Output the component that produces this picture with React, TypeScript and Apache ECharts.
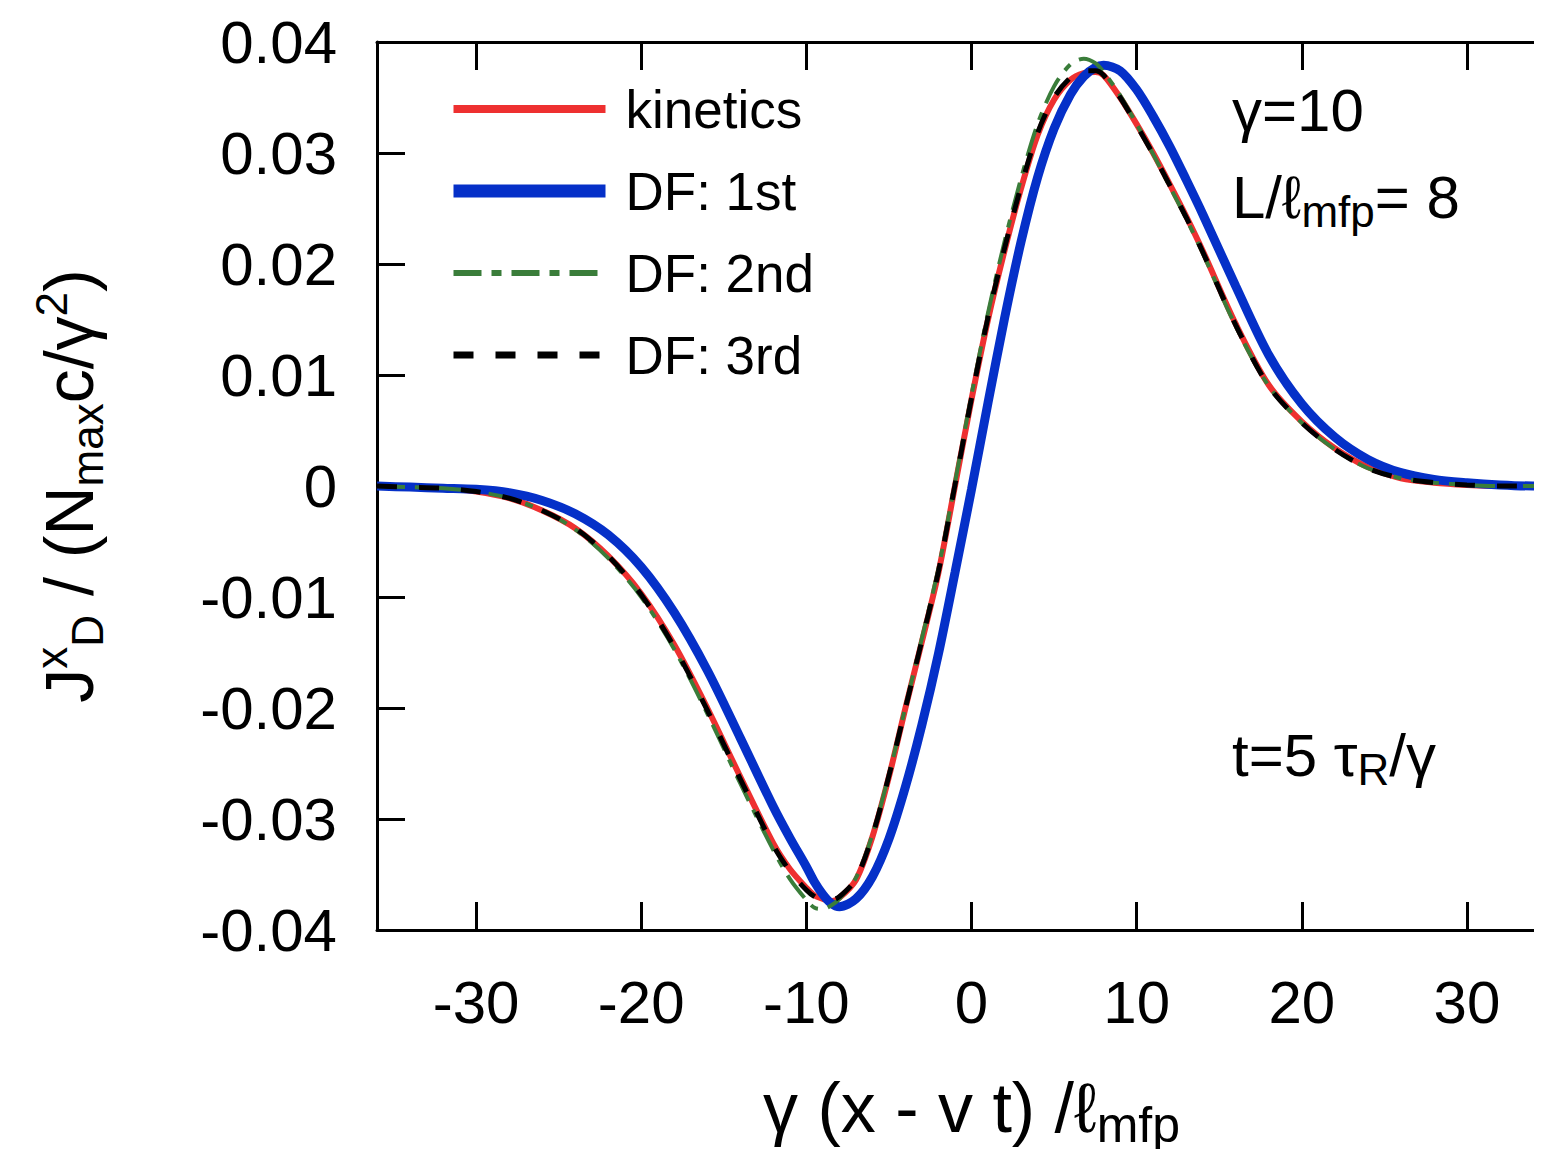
import React, { useEffect, useRef } from "react";
import * as echarts from "echarts";

const xs = [
  -36, -34, -32, -30, -28, -26, -24, -22, -20, -18, -16, -14, -12, -11, -10, -9.5, -9, -8.5, -8, -7, -6, -5, -4,
  -3, -2, -1, 0, 1, 2, 3, 4, 5, 6, 6.8, 7.5, 8, 9, 10, 11, 12, 13, 14, 16, 18, 20, 22, 24, 26, 28, 30, 32, 34, 36,
];

const kinetics = [
  0, -0.0001, -0.0002, -0.0005, -0.0011, -0.0022, -0.0038, -0.0063, -0.0097, -0.0143, -0.02, -0.0262, -0.0322,
  -0.0345, -0.0362, -0.0369, -0.0372, -0.0374, -0.0371, -0.0355, -0.0316, -0.0262, -0.02, -0.014, -0.0078, 0,
  0.0078, 0.015, 0.0212, 0.0268, 0.0316, 0.0348, 0.0366, 0.0372, 0.0373, 0.037, 0.035, 0.0326, 0.03, 0.0272,
  0.0243, 0.0212, 0.0146, 0.0091, 0.0058, 0.0034, 0.0017, 0.0007, 0.0003, 0.0001, 0, 0, 0,
];

const df1st = [
  0, -0.0001, -0.0002, -0.0003, -0.0006, -0.0013, -0.0025, -0.0044, -0.0073, -0.0114, -0.0166, -0.0227, -0.0289,
  -0.0317, -0.0343, -0.0357, -0.0368, -0.0376, -0.0379, -0.0372, -0.0352, -0.0318, -0.0271, -0.0215, -0.0151,
  -0.0078, -0.0003, 0.0075, 0.0151, 0.022, 0.0278, 0.0322, 0.0353, 0.0369, 0.0377, 0.0379, 0.0374, 0.0357,
  0.0333, 0.0306, 0.0276, 0.0245, 0.018, 0.0118, 0.0074, 0.0044, 0.0024, 0.0012, 0.0006, 0.0003, 0.0001, 0, 0,
];

const df2nd = [
  0, -0.0001, -0.0002, -0.0005, -0.0011, -0.0022, -0.0039, -0.0065, -0.01, -0.0147, -0.0205, -0.0268, -0.0328,
  -0.0354, -0.0373, -0.038, -0.0381, -0.0378, -0.0372, -0.0353, -0.0314, -0.026, -0.0199, -0.0137, -0.0074,
  0.0003, 0.0082, 0.0156, 0.022, 0.0277, 0.0326, 0.036, 0.038, 0.0385, 0.0381, 0.0373, 0.0352, 0.0326, 0.0299,
  0.027, 0.0241, 0.021, 0.0144, 0.009, 0.0057, 0.0033, 0.0016, 0.0007, 0.0003, 0.0001, 0, 0, 0,
];

const df3rd = [
  0, -0.0001, -0.0002, -0.0005, -0.0011, -0.0022, -0.0038, -0.0063, -0.0098, -0.0145, -0.0202, -0.0264, -0.0324,
  -0.0347, -0.0364, -0.037, -0.0373, -0.0373, -0.037, -0.0354, -0.0315, -0.0261, -0.02, -0.0139, -0.0077, 0.0001,
  0.0079, 0.0152, 0.0214, 0.027, 0.0318, 0.035, 0.0368, 0.0374, 0.0374, 0.037, 0.035, 0.0325, 0.0299, 0.0271,
  0.0242, 0.0211, 0.0145, 0.009, 0.0057, 0.0033, 0.0016, 0.0007, 0.0003, 0.0001, 0, 0, 0,
];

const xTicks = [-30, -20, -10, 0, 10, 20, 30];
const seriesNames = ["kinetics", "DF: 1st", "DF: 2nd", "DF: 3rd"];

const FONT = '"Liberation Sans", Arial, Helvetica, sans-serif';

const RED = "#ee3030";
const BLUE = "#0530c8";
const GREEN = "#3a7d3a";
const BLACK = "#000000";

export default function App() {
  const ref = useRef<HTMLDivElement>(null);

  useEffect(() => {
    if (!ref.current) return;
    const chart = echarts.init(ref.current, null, { renderer: "svg" });
    const pairs = (ys: number[]) => xs.map((x, i) => [x, ys[i]]);
    const axisLineStyle = { color: "#000", width: 3 };
    const tickStyle = { color: "#000", width: 3 };

    const richAnno = {
      n: { fontSize: 60, lineHeight: 72, fontFamily: FONT, color: "#000" },
      s: { fontSize: 44, lineHeight: 39, verticalAlign: "bottom", fontFamily: FONT, color: "#000" },
    };

    const lineSeries = (name: string, ys: number[], color: string, width: number, type: any, z: number) => ({
      name,
      type: "line",
      data: pairs(ys),
      symbol: "none",
      smooth: 0.3,
      lineStyle: { color, width, type },
      itemStyle: { color },
      z,
    });

    chart.setOption({
      animation: false,
      backgroundColor: "#fff",
      textStyle: { fontFamily: FONT, color: "#000" },
      grid: {
        left: 377,
        width: 1189,
        top: 42,
        bottom: 227,
        containLabel: false,
        outerBoundsMode: "none",
      },
      legend: {
        orient: "vertical",
        left: 442,
        top: 74,
        itemWidth: 152,
        itemHeight: 20,
        itemGap: 22,
        itemStyle: { opacity: 0 },
        data: [
          { name: seriesNames[0], lineStyle: { color: RED, width: 8, type: "solid" } },
          { name: seriesNames[1], lineStyle: { color: BLUE, width: 13, type: "solid" } },
          { name: seriesNames[2], lineStyle: { color: GREEN, width: 6, type: [28, 10, 10, 10] } },
          { name: seriesNames[3], lineStyle: { color: BLACK, width: 7, type: [20, 22] } },
        ],
        textStyle: { fontSize: 53, color: "#000", fontFamily: FONT, lineHeight: 60, padding: [0, 0, 0, 15] },
      },
      xAxis: [
        {
          type: "value",
          position: "bottom",
          min: -36,
          max: 36,
          axisLine: { show: true, onZero: false, lineStyle: axisLineStyle },
          axisTick: { show: true, inside: true, length: 28, customValues: xTicks, lineStyle: tickStyle },
          axisLabel: { customValues: xTicks, fontSize: 60, color: "#000", margin: 42, fontFamily: FONT },
          splitLine: { show: false },
          name: "{n|γ (x - v t) /ℓ}{s|mfp}",
          nameLocation: "middle",
          nameGap: 136,
          nameTextStyle: {
            rich: {
              n: { fontSize: 70, lineHeight: 84, fontFamily: FONT, color: "#000" },
              s: { fontSize: 50, lineHeight: 44, verticalAlign: "bottom", fontFamily: FONT, color: "#000" },
            },
          },
        },
        {
          type: "value",
          position: "top",
          min: -36,
          max: 36,
          axisLine: { show: true, onZero: false, lineStyle: axisLineStyle },
          axisTick: { show: true, inside: true, length: 28, customValues: xTicks, lineStyle: tickStyle },
          axisLabel: { show: false },
          splitLine: { show: false },
        },
      ],
      yAxis: [
        {
          type: "value",
          position: "left",
          min: -0.04,
          max: 0.04,
          interval: 0.01,
          axisLine: { show: true, onZero: false, lineStyle: axisLineStyle },
          axisTick: { show: true, inside: true, length: 28, lineStyle: tickStyle },
          axisLabel: {
            fontSize: 60,
            color: "#000",
            margin: 40,
            fontFamily: FONT,
            formatter: (v: number) => (Math.abs(v) < 1e-9 ? "0" : v.toFixed(2)),
          },
          splitLine: { show: false },
          name: "{n|J}{sup|x}{sub|D}{n| / (N}{sub|max}{n|c/γ}{sup|2}{n|)}",
          nameLocation: "middle",
          nameRotate: 90,
          nameGap: 268,
          nameTextStyle: {
            rich: {
              n: { fontSize: 68, lineHeight: 80, fontFamily: FONT, color: "#000" },
              sub: { fontSize: 44, lineHeight: 38, verticalAlign: "bottom", fontFamily: FONT, color: "#000" },
              sup: { fontSize: 44, lineHeight: 38, verticalAlign: "top", fontFamily: FONT, color: "#000" },
            },
          },
        },
        {
          type: "value",
          position: "right",
          min: -0.04,
          max: 0.04,
          interval: 0.01,
          axisLine: { show: true, onZero: false, lineStyle: axisLineStyle },
          axisTick: { show: true, inside: true, length: 28, lineStyle: tickStyle },
          axisLabel: { show: false },
          splitLine: { show: false },
        },
      ],
      series: [
        lineSeries(seriesNames[0], kinetics, RED, 6, "solid", 2),
        lineSeries(seriesNames[1], df1st, BLUE, 9, "solid", 3),
        lineSeries(seriesNames[2], df2nd, GREEN, 4, [28, 10, 8, 10], 4),
        lineSeries(seriesNames[3], df3rd, BLACK, 5, [20, 22], 5),
      ],
      graphic: [
        { type: "text", x: 1232, y: 74, style: { text: "{n|γ=10}", rich: richAnno } },
        { type: "text", x: 1232, y: 161, style: { text: "{n|L/ℓ}{s|mfp}{n|= 8}", rich: richAnno } },
        { type: "text", x: 1232, y: 719, style: { text: "{n|t=5 τ}{s|R}{n|/γ}", rich: richAnno } },
      ],
    });

    return () => chart.dispose();
  }, []);

  return <div ref={ref} style={{ width: 1542, height: 1157, margin: -8 }} />;
}
